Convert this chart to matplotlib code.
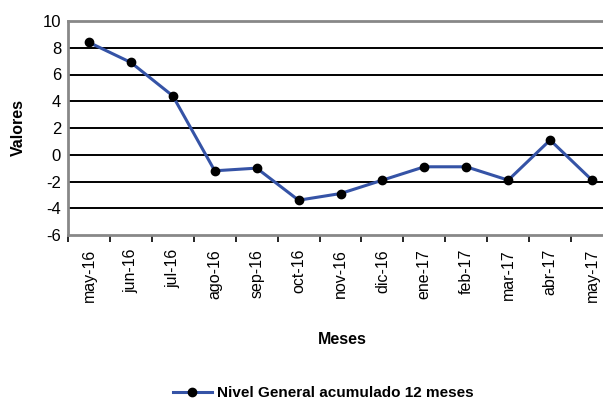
import numpy as np
import matplotlib.pyplot as plt
from matplotlib.lines import Line2D

meses = ['may-16', 'jun-16', 'jul-16', 'ago-16', 'sep-16', 'oct-16', 'nov-16',
         'dic-16', 'ene-17', 'feb-17', 'mar-17', 'abr-17', 'may-17']
valores = [8.4, 6.9, 4.4, -1.2, -1.0, -3.4, -2.9, -1.9, -0.9, -0.9, -1.9, 1.1, -1.9]
serie = 'Nivel General acumulado 12 meses'

plt.rcParams['font.family'] = ['Liberation Sans', 'DejaVu Sans']

fig = plt.figure(figsize=(6.03, 4.03), dpi=100)
# plot area runs a bit past the right edge, as in the original
ax = fig.add_axes([68/603, 1 - 235/403, (613-68)/603, (235-21)/403])

x = np.arange(len(meses))
ax.plot(x, valores, color='#3553a6', lw=2.2, marker='o', ms=6,
        mfc='black', mec='black', zorder=3)

ax.set_xlim(-0.5, len(meses) - 0.5)
ax.set_ylim(-6, 10)
ax.set_yticks(np.arange(-6, 11, 2))
ax.set_yticklabels([str(v) for v in range(-6, 11, 2)], fontsize=12)
for y in range(-4, 10, 2):
    ax.axhline(y, color='black', lw=1.4, zorder=1)

ax.set_xticks(x)
ax.set_xticklabels(meses, rotation=90, fontsize=11.5)
ax.set_xticks(np.arange(-0.5, len(meses), 1), minor=True)
ax.tick_params(axis='x', which='major', length=0, pad=10)
ax.tick_params(axis='x', which='minor', length=5, width=1.2, color='black', direction='out')
ax.tick_params(axis='y', length=0, pad=5)

for s in ['left', 'top', 'bottom']:
    ax.spines[s].set_color('#888888')
    ax.spines[s].set_linewidth(2)
ax.spines['right'].set_visible(False)

fig.text(18/603, 1 - 127/403, 'Valores', rotation=90, fontsize=11.5,
         fontweight='bold', ha='center', va='center')
fig.text(342/603, 1 - 340/403, 'Meses', fontsize=11.5, fontweight='bold',
         ha='center', va='center')

handle = Line2D([], [], color='#3553a6', lw=2.2, marker='o', ms=6,
                mfc='black', mec='black')
fig.legend([handle], [serie], loc='center', bbox_to_anchor=(323/603, 1 - 393/403),
           frameon=False, prop={'weight': 'bold', 'size': 11}, handlelength=2.6,
           handletextpad=0.3)

fig.savefig('out.png', dpi=100)
